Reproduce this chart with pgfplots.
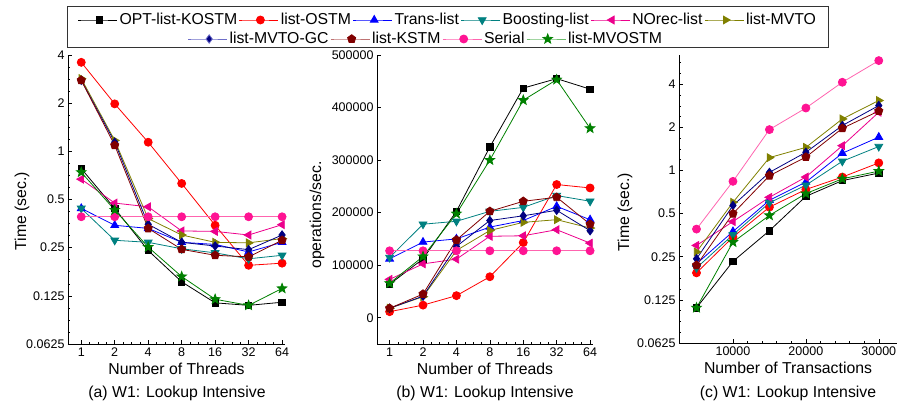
\documentclass[border=0pt]{standalone}
\usepackage{pgfplots}
\pgfplotsset{compat=1.18}
\usepackage{fontspec}
\setmainfont{Liberation Sans}
\definecolor{cteal}{RGB}{0,128,128}
\definecolor{colive}{RGB}{128,128,0}
\definecolor{cnavy}{RGB}{0,0,128}
\definecolor{cmaroon}{RGB}{128,0,0}
\definecolor{cpink}{RGB}{255,20,147}
\definecolor{cpinkl}{RGB}{255,100,175}
\definecolor{cgreen}{RGB}{0,128,0}
\definecolor{lnavy}{RGB}{110,110,200}
\definecolor{lmaroon}{RGB}{190,115,115}
\definecolor{lgreen}{RGB}{110,190,110}
\newcommand{\labfont}{\fontsize{15.8}{18}\selectfont}
\pgfdeclareplotmark{fstar}{%
 \pgfpathmoveto{\pgfpointpolar{90}{\pgfplotmarksize}}%
 \pgfpathlineto{\pgfpointpolar{126}{0.42\pgfplotmarksize}}%
 \pgfpathlineto{\pgfpointpolar{162}{\pgfplotmarksize}}%
 \pgfpathlineto{\pgfpointpolar{198}{0.42\pgfplotmarksize}}%
 \pgfpathlineto{\pgfpointpolar{234}{\pgfplotmarksize}}%
 \pgfpathlineto{\pgfpointpolar{270}{0.42\pgfplotmarksize}}%
 \pgfpathlineto{\pgfpointpolar{306}{\pgfplotmarksize}}%
 \pgfpathlineto{\pgfpointpolar{342}{0.42\pgfplotmarksize}}%
 \pgfpathlineto{\pgfpointpolar{18}{\pgfplotmarksize}}%
 \pgfpathlineto{\pgfpointpolar{54}{0.42\pgfplotmarksize}}%
 \pgfpathclose\pgfusepathqfillstroke}
\pgfplotsset{
 sA/.style={black, mark=square*, mark size=3.2pt},
 sB/.style={red, mark=*, mark size=4pt},
 sC/.style={blue, mark=triangle*, mark size=4.5pt},
 sD/.style={cteal, mark=triangle*, mark size=4.5pt, mark options={rotate=180}},
 sE/.style={magenta, mark=triangle*, mark size=4.5pt, mark options={rotate=90}},
 sF/.style={colive, mark=triangle*, mark size=4.5pt, mark options={rotate=-90}},
 sG/.style={cnavy, mark=diamond*, mark size=4.2pt},
 sH/.style={cmaroon, mark=pentagon*, mark size=4.3pt},
 sI/.style={cpinkl, mark=*, mark size=4pt, mark options={draw=cpink, fill=cpink}},
 sJ/.style={cgreen, mark=fstar, mark size=5pt},
 myax/.style={
  scale only axis, anchor=south west,
  axis lines=left, axis line style={-, line width=0.8pt},
  tick align=inside, major tick length=4pt, minor tick length=2pt,
  tick style={black, line width=0.5pt},
  ticklabel style={font=\fontsize{12.5}{14}\selectfont},
  label style={font=\labfont},
  /pgf/number format/assume math mode=true,
  every axis plot/.append style={line width=0.8pt},
  clip=false,
 },
 legax/.style={
  hide axis, scale only axis, width=10pt, height=10pt, anchor=center,
  xmin=0, xmax=1, ymin=0, ymax=1,
  legend style={at={(0.5,0.5)}, anchor=center, draw=none, fill=none,
   font=\labfont, inner sep=0pt, nodes={inner sep=2pt}},
  legend cell align=left,
  legend image code/.code={%
   \path (-3pt,0pt) -- (0pt,0pt);
   \draw[mark repeat=2, mark phase=2, line width=0.8pt, ##1] plot coordinates {(0pt,0pt) (18pt,0pt) (36pt,0pt)};},
 },
 log2minor/.style={extra y ticks={0.0743,0.0884,0.1051,0.1487,0.1768,0.2102,0.2973,0.3536,0.4204,0.5946,0.7071,0.8409,1.1892,1.4142,1.6818,2.3784,2.8284,3.3636,4.7568,5.6569},
   extra y tick labels={}, extra y tick style={major tick length=2pt}},
 thrminor/.style={extra x ticks={1.189,1.414,1.682,2.378,2.828,3.364,4.757,5.657,6.727,9.514,11.31,13.45,19.03,22.63,26.91,38.05,45.25,53.82},
   extra x tick labels={}, extra x tick style={major tick length=2pt}},
}
\begin{document}
\begin{tikzpicture}
\path[use as bounding box] (0pt,0pt) rectangle (901pt,410pt);

% ---------- (a) ----------
\begin{axis}[myax, at={(68pt,66pt)}, width=217pt, height=289pt,
 xmode=log, log basis x=2, xmin=0.76, xmax=68,
 xtick={1,2,4,8,16,32,64}, xticklabels={1,2,4,8,16,32,64}, thrminor,
 ymode=log, log basis y=2, ymin=0.0625, ymax=4,
 ytick={0.0625,0.125,0.25,0.5,1,2,4}, yticklabels={0.0625,0.125,0.25,0.5,1,2,4}, log2minor,
 xlabel={Number of Threads}, ylabel={Time (sec.)},
 ylabel style={at={(axis description cs:-0.212,0.46)}, anchor=center}]
\addplot[sA] coordinates {(1,0.78)(2,0.44)(4,0.24)(8,0.153)(16,0.113)(32,0.109)(64,0.114)};
\addplot[sB] coordinates {(1,3.6)(2,1.98)(4,1.14)(8,0.63)(16,0.345)(32,0.194)(64,0.2)};
\addplot[sC] coordinates {(1,0.44)(2,0.345)(4,0.33)(8,0.27)(16,0.262)(32,0.235)(64,0.27)};
\addplot[sD] coordinates {(1,0.44)(2,0.278)(4,0.27)(8,0.246)(16,0.232)(32,0.213)(64,0.224)};
\addplot[sE] coordinates {(1,0.67)(2,0.475)(4,0.45)(8,0.318)(16,0.316)(32,0.3)(64,0.348)};
\addplot[sF] coordinates {(1,2.85)(2,1.17)(4,0.38)(8,0.30)(16,0.27)(32,0.268)(64,0.285)};
\addplot[sG] coordinates {(1,2.78)(2,1.14)(4,0.35)(8,0.27)(16,0.256)(32,0.243)(64,0.30)};
\addplot[sH] coordinates {(1,2.78)(2,1.09)(4,0.33)(8,0.244)(16,0.224)(32,0.219)(64,0.278)};
\addplot[sI] coordinates {(1,0.39)(2,0.39)(4,0.39)(8,0.39)(16,0.39)(32,0.39)(64,0.39)};
\addplot[sJ] coordinates {(1,0.74)(2,0.43)(4,0.252)(8,0.165)(16,0.119)(32,0.109)(64,0.139)};
\end{axis}
\node[font=\labfont] at (177pt,17pt) {(a) W1: Lookup Intensive};

% ---------- (b) ----------
\begin{axis}[myax, at={(377pt,66pt)}, width=216pt, height=289pt,
 xmode=log, log basis x=2, xmin=0.77, xmax=68,
 xtick={1,2,4,8,16,32,64}, xticklabels={1,2,4,8,16,32,64}, thrminor,
 ymin=-50000, ymax=500000, scaled y ticks=false,
 ytick={0,100000,200000,300000,400000,500000},
 yticklabels={0,100000,200000,300000,400000,500000},
 xlabel={Number of Threads}, ylabel={operations/sec.},
 ylabel style={at={(axis description cs:-0.278,0.446)}, anchor=center}]
\addplot[sA] coordinates {(1,63700)(2,112000)(4,202500)(8,325000)(16,437000)(32,455000)(64,435000)};
\addplot[sB] coordinates {(1,11500)(2,24000)(4,42000)(8,78000)(16,143000)(32,253500)(64,247000)};
\addplot[sC] coordinates {(1,112000)(2,144000)(4,150000)(8,172500)(16,185000)(32,212000)(64,186500)};
\addplot[sD] coordinates {(1,114600)(2,178000)(4,183500)(8,202500)(16,210000)(32,232500)(64,221700)};
\addplot[sE] coordinates {(1,73000)(2,102500)(4,111500)(8,155000)(16,156000)(32,167500)(64,142000)};
\addplot[sF] coordinates {(1,18000)(2,40000)(4,128000)(8,166000)(16,181500)(32,186600)(64,170700)};
\addplot[sG] coordinates {(1,18000)(2,41000)(4,135700)(8,185000)(16,194000)(32,204500)(64,165600)};
\addplot[sH] coordinates {(1,18000)(2,45000)(4,148000)(8,202500)(16,221600)(32,229300)(64,178000)};
\addplot[sI] coordinates {(1,127400)(2,127400)(4,127400)(8,127400)(16,127400)(32,127400)(64,127400)};
\addplot[sJ] coordinates {(1,65600)(2,116500)(4,198000)(8,300000)(16,414000)(32,453000)(64,360500)};
\end{axis}
\node[font=\labfont] at (485pt,17pt) {(b) W1: Lookup Intensive};

% ---------- (c) ----------
\begin{axis}[myax, at={(679pt,67pt)}, width=218pt, height=288pt,
 xmin=2600, xmax=32500, scaled x ticks=false,
 xtick={10000,20000,30000}, xticklabels={10000,20000,30000},
 minor x tick num=4,
 ymode=log, log basis y=2, ymin=0.0625, ymax=6.4,
 ytick={0.0625,0.125,0.25,0.5,1,2,4}, yticklabels={0.0625,0.125,0.25,0.5,1,2,4}, log2minor,
 xlabel={Number of Transactions}, ylabel={Time (sec.)},
 ylabel style={at={(axis description cs:-0.248,0.455)}, anchor=center}]
\addplot[sA] coordinates {(5000,0.11)(10000,0.232)(15000,0.38)(20000,0.66)(25000,0.85)(30000,0.96)};
\addplot[sB] coordinates {(5000,0.193)(10000,0.343)(15000,0.555)(20000,0.737)(25000,0.9)(30000,1.13)};
\addplot[sC] coordinates {(5000,0.223)(10000,0.375)(15000,0.62)(20000,0.83)(25000,1.32)(30000,1.71)};
\addplot[sD] coordinates {(5000,0.209)(10000,0.356)(15000,0.595)(20000,0.79)(25000,1.16)(30000,1.47)};
\addplot[sE] coordinates {(5000,0.3)(10000,0.44)(15000,0.65)(20000,0.9)(25000,1.49)(30000,2.55)};
\addplot[sF] coordinates {(5000,0.27)(10000,0.6)(15000,1.23)(20000,1.45)(25000,2.29)(30000,3.08)};
\addplot[sG] coordinates {(5000,0.242)(10000,0.57)(15000,0.97)(20000,1.34)(25000,2.06)(30000,2.84)};
\addplot[sH] coordinates {(5000,0.218)(10000,0.5)(15000,0.92)(20000,1.24)(25000,1.97)(30000,2.6)};
\addplot[sI] coordinates {(5000,0.39)(10000,0.84)(15000,1.93)(20000,2.73)(25000,4.13)(30000,5.85)};
\addplot[sJ] coordinates {(5000,0.11)(10000,0.316)(15000,0.486)(20000,0.69)(25000,0.875)(30000,0.99)};
\end{axis}
\node[font=\labfont] at (788pt,17pt) {(c) W1: Lookup Intensive};

% ---------- legend ----------
\draw[line width=0.8pt, black!80] (67pt,363pt) rectangle (828pt,404pt);
\begin{axis}[legax, at={(448pt,390pt)}, legend columns=6]
\addlegendimage{sA}\addlegendentry{OPT-list-KOSTM}
\addlegendimage{sB}\addlegendentry{list-OSTM}
\addlegendimage{sC}\addlegendentry{Trans-list}
\addlegendimage{sD}\addlegendentry{Boosting-list}
\addlegendimage{sE}\addlegendentry{NOrec-list}
\addlegendimage{sF}\addlegendentry{list-MVTO}
\end{axis}
\begin{axis}[legax, at={(426pt,371pt)}, legend columns=4]
\addlegendimage{sG, draw=lnavy}\addlegendentry{list-MVTO-GC}
\addlegendimage{sH, draw=lmaroon, mark options={draw=cmaroon, fill=cmaroon}}\addlegendentry{list-KSTM}
\addlegendimage{sI}\addlegendentry{Serial}
\addlegendimage{sJ, draw=lgreen, mark options={draw=cgreen, fill=cgreen}}\addlegendentry{list-MVOSTM}
\end{axis}
\end{tikzpicture}
\end{document}
